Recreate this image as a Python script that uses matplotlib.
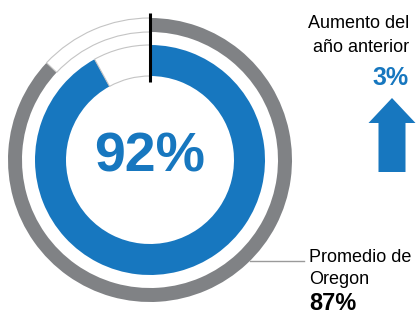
import matplotlib
matplotlib.use("Agg")
from matplotlib import pyplot as plt

# data
rate = 92
oregon_avg = 87
change = 3
label_change = ["Aumento del", "año anterior"]
label_avg = ["Promedio de", "Oregon"]

blue = "#1777bf"
grey = "#808285"
light = "#c4c4c4"

plt.rcParams['font.family'] = ['Liberation Sans', 'DejaVu Sans']

fig = plt.figure(figsize=(4.2, 3.15), dpi=100)
ax = fig.add_axes([0, 0, 1, 1])

cx, cy = 150, 155

# outer ring: state average
wedges, _ = ax.pie([oregon_avg, 100 - oregon_avg], colors=[grey, "white"],
                   startangle=90, counterclock=False, center=(cx, cy),
                   radius=142, frame=True,
                   wedgeprops=dict(width=14, linewidth=0))
wedges[1].set_edgecolor(light)
wedges[1].set_linewidth(0.8)

# inner ring: this school
wedges, _ = ax.pie([rate, 100 - rate], colors=[blue, "white"],
                   startangle=90, counterclock=False, center=(cx, cy),
                   radius=115, frame=True,
                   wedgeprops=dict(width=31, linewidth=0))
wedges[1].set_edgecolor(light)
wedges[1].set_linewidth(0.8)

ax.set_xlim(0, 420)
ax.set_ylim(0, 315)
ax.set_aspect('equal')
ax.axis('off')

# start marker
ax.plot([cx, cx], [315 - 13, 315 - 82], color="black", lw=2.2, solid_capstyle='butt')

ax.text(cx, cy + 2, f"{rate}%", color=blue, fontsize=40, fontweight='bold',
        ha='center', va='center')

# leader line to the average label
ax.plot([250, 304], [315 - 261, 315 - 261], color="#9a9a9a", lw=1)
ax.text(309, 315 - 258, label_avg[0], fontsize=13, ha='left', va='center')
ax.text(309, 315 - 279, label_avg[1], fontsize=13, ha='left', va='center')
ax.text(309, 315 - 303, f"{oregon_avg}%", fontsize=17, fontweight='bold',
        ha='left', va='center')

# change from last year
ax.text(409, 315 - 23, label_change[0], fontsize=13, ha='right', va='center')
ax.text(409, 315 - 47, label_change[1], fontsize=13, ha='right', va='center')
ax.text(409, 315 - 78, f"{change}%", color=blue, fontsize=18, fontweight='bold',
        ha='right', va='center')
ax.arrow(392, 315 - 172, 0, 74 - 25, width=27, head_width=47, head_length=25,
         length_includes_head=False, color=blue, lw=0)

fig.savefig("out.png", dpi=100)
